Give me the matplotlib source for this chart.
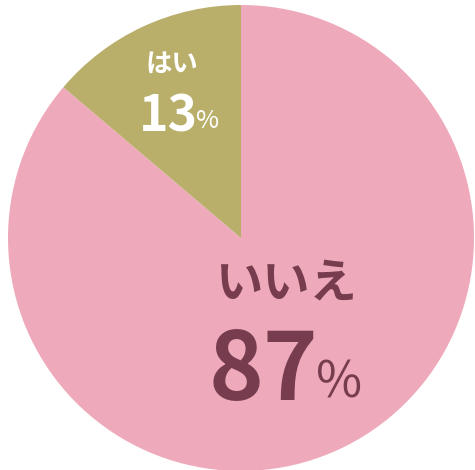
import matplotlib.pyplot as plt

plt.rcParams['font.family'] = ['Noto Sans CJK JP', 'DejaVu Sans']

labels = ['いいえ', 'はい']
percents = ['87', '13']
shares = [86.2, 13.8]
colors = ['#eeaabb', '#b9af6b']
text_colors = ['#773d4f', '#ffffff']

fig = plt.figure(figsize=(4.75, 4.70), dpi=100)
ax = fig.add_axes([0, 0, 1, 1])
ax.pie(shares, colors=colors, startangle=90, counterclock=False, radius=1)
ax.set_xlim(-241 / 233, 234 / 233)
ax.set_ylim(-232 / 233, 238 / 233)
ax.set_aspect('equal')
ax.axis('off')

def px(x, y):
    return (x - 241) / 233, (238 - y) / 233

# いいえ
x, y = px(287, 283)
ax.text(x, y, labels[0], ha='center', va='center', fontsize=34, fontweight='bold', color=text_colors[0])
x, y = px(318, 400)
ax.text(x, y, percents[0], ha='right', va='baseline', fontsize=67, fontweight='bold', color=text_colors[0])
x, y = px(316, 398)
ax.text(x, y, '%', ha='left', va='baseline', fontsize=36, color=text_colors[0])

# はい
x, y = px(172, 64)
ax.text(x, y, labels[1], ha='center', va='center', fontsize=19, fontweight='bold', color=text_colors[1])
x, y = px(198, 132)
ax.text(x, y, percents[1], ha='right', va='baseline', fontsize=36, fontweight='bold', color=text_colors[1])
x, y = px(196, 128)
ax.text(x, y, '%', ha='left', va='baseline', fontsize=18, color=text_colors[1])

fig.savefig('out.png', dpi=100)
